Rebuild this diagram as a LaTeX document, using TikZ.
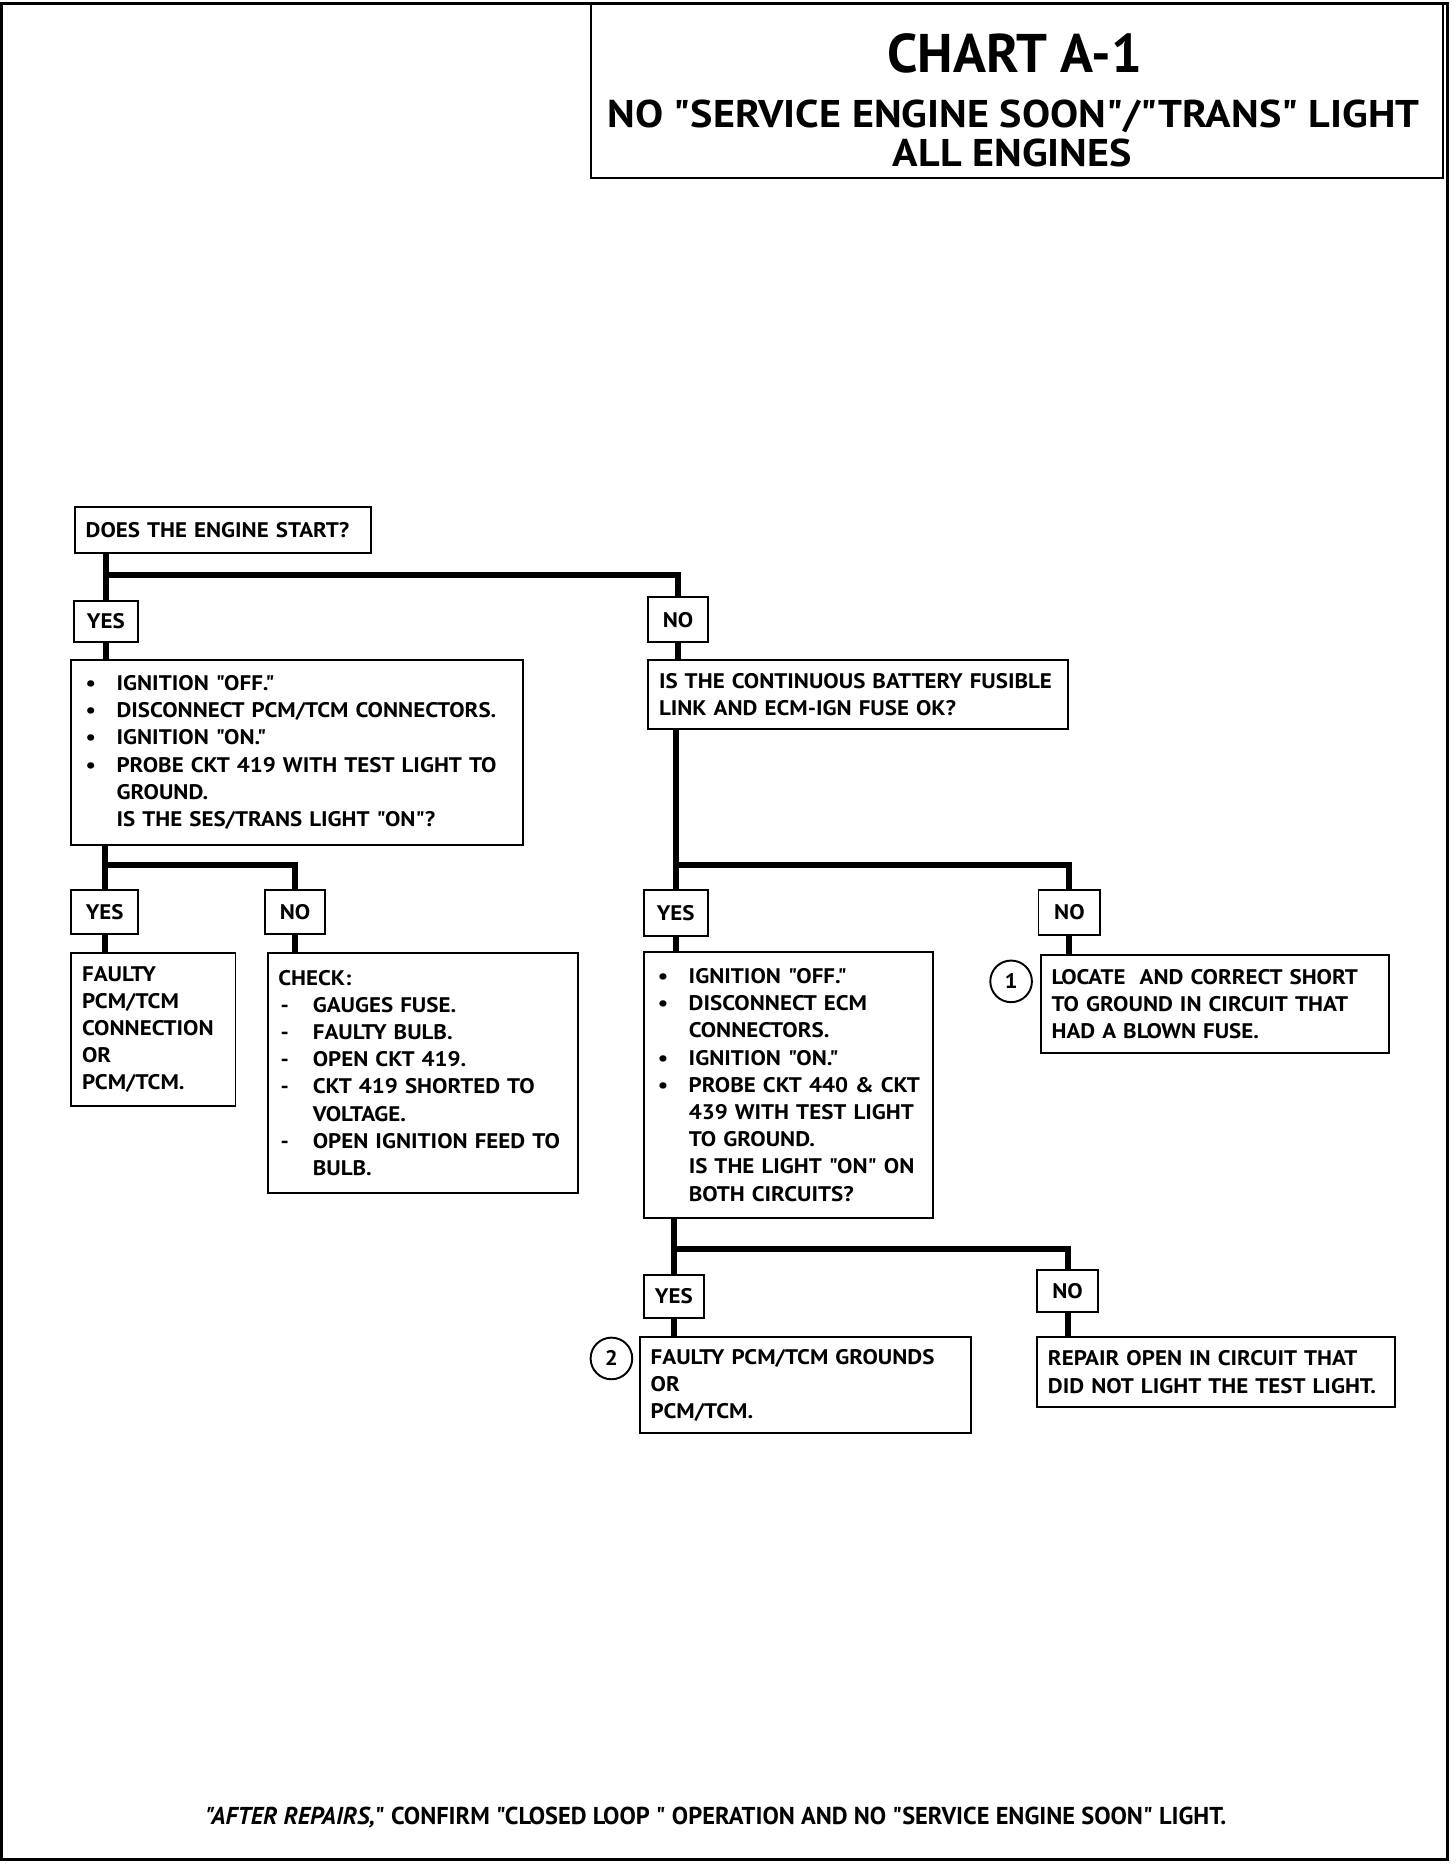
\documentclass[tikz,border=0pt]{standalone}
\usepackage{fontspec}
\setmainfont{PT Sans}[FakeStretch=1.09, Ligatures=TeXOff]
\newfontfamily\titlefont{PT Sans}[Ligatures=TeXOff]
\usepackage{tikz}
\newlength\unitpx
\setlength\unitpx{0.238mm}
\newcommand{\dotitem}{\makebox[29\unitpx][l]{\hspace{3\unitpx}•}}
\newcommand{\dashitem}{\makebox[29\unitpx][l]{\hspace{2\unitpx}-}}
\newcommand{\skipitem}{\hspace*{29\unitpx}}
\tikzset{
    box/.style={draw, line width=1.1pt, inner xsep=9\unitpx, inner ysep=0pt, outer sep=0pt, align=left, anchor=north west, font=\bfseries\fontsize{12}{15.5}\selectfont}, % 文字框的样式
    sz/.style 2 args={text width=#1\unitpx, minimum height=#2\unitpx}, % 文字框的宽和高
    tag/.style 2 args={draw, line width=1.1pt, inner sep=0pt, outer sep=0pt, anchor=north west, minimum width=#1\unitpx, minimum height=#2\unitpx, font=\bfseries\fontsize{12}{15.5}\selectfont}, % YES/NO 小框
    link/.style={line width=3.4pt}, % 粗连线
    num/.style={circle, draw, line width=1.1pt, minimum size=35\unitpx, inner sep=0pt, font=\bfseries\fontsize{12}{12}\selectfont} % 圆圈编号
}
\begin{document}
\begin{tikzpicture}[x=\unitpx, y=-\unitpx]

    \def\W{1224} \def\H{1567}
    \useasboundingbox (0,0) rectangle (\W,\H);
    \draw[line width=2pt] (1,3) rectangle (1217,1563);

    \node[draw, line width=1.1pt, anchor=north west, minimum width=716\unitpx, minimum height=147\unitpx, inner sep=0pt, outer sep=0pt] (title) at (497,3) {};
    \node[font=\titlefont\bfseries\fontsize{31}{31}\selectfont] (hd1) at (853,45) {CHART A-1};
    \node[font=\bfseries\fontsize{22}{22}\selectfont] (hd2) at (852,98) {NO "SERVICE ENGINE SOON"/"TRANS" LIGHT};
    \node[font=\bfseries\fontsize{22}{22}\selectfont] (hd3) at (851,129) {ALL ENGINES};

    \node[box, sz={231}{39}] (q1) at (63,426) {DOES THE ENGINE START?};
    \node[tag={54}{35}] (yes1) at (62,505) {YES};
    \node[tag={50}{38}] (no1) at (545,502) {NO};
    \node[box, sz={362}{155}] (a1) at (60,555) {\dotitem IGNITION "OFF."\\ \dotitem DISCONNECT PCM/TCM CONNECTORS.\\ \dotitem IGNITION "ON."\\ \dotitem PROBE CKT 419 WITH TEST LIGHT TO\\ \skipitem GROUND.\\ \skipitem IS THE SES/TRANS LIGHT "ON"?};
    \node[box, sz={335}{58}] (q2) at (545,555) {IS THE CONTINUOUS BATTERY FUSIBLE\\ LINK AND ECM-IGN FUSE OK?};

    \node[tag={56}{37}] (yes2) at (60,748) {YES};
    \node[tag={50}{37}] (no2) at (223,748) {NO};
    \node[box, sz={120}{129}] (r1) at (60,801) {FAULTY\\ PCM/TCM\\ CONNECTION\\ OR\\ PCM/TCM.};
    \node[box, sz={243}{202}] (r2) at (225,801) {CHECK:\\ \dashitem GAUGES FUSE.\\ \dashitem FAULTY BULB.\\ \dashitem OPEN CKT 419.\\ \dashitem CKT 419 SHORTED TO\\ \skipitem VOLTAGE.\\ \dashitem OPEN IGNITION FEED TO\\ \skipitem BULB.};

    \node[tag={54}{39}] (yes3) at (541,748) {YES};
    \node[tag={52}{38}] (no3) at (873,748) {NO};
    \node[box, sz={225}{224}] (a2) at (541,800) {\dotitem IGNITION "OFF."\\ \dotitem DISCONNECT ECM\\ \skipitem CONNECTORS.\\ \dotitem IGNITION "ON."\\ \dotitem PROBE CKT 440 \& CKT\\ \skipitem 439 WITH TEST LIGHT\\ \skipitem TO GROUND.\\ \skipitem IS THE LIGHT "ON" ON\\ \skipitem BOTH CIRCUITS?};
    \node[box, sz={275}{82}] (r3) at (875,803) {LOCATE\ \ AND CORRECT SHORT\\ TO GROUND IN CIRCUIT THAT\\ HAD A BLOWN FUSE.};
    \node[num] (c1) at (850,825) {1};

    \node[tag={51}{36}] (yes4) at (541,1072) {YES};
    \node[tag={51}{35}] (no4) at (872,1068) {NO};
    \node[box, sz={260}{81}] (r4) at (538,1124) {FAULTY PCM/TCM GROUNDS\\ OR\\ PCM/TCM.};
    \node[box, sz={283}{59}] (r5) at (872,1124) {REPAIR OPEN IN CIRCUIT THAT\\ DID NOT LIGHT THE TEST LIGHT.};
    \node[num] (c2) at (514,1142) {2};

    \draw[link] (yes1.north |- q1.south) -- (yes1.north);
    \draw[link] ([yshift=22\unitpx]yes1.north) -| (no1.north);
    \draw[link] (yes1.south) -- (yes1.south |- a1.north);
    \draw[link] (no1.south) -- (no1.south |- q2.north);

    \draw[link] (yes2.north |- a1.south) -- (yes2.north);
    \draw[link] ([yshift=21\unitpx]yes2.north) -| (no2.north);
    \draw[link] (yes2.south) -- (yes2.south |- r1.north);
    \draw[link] (no2.south) -- (no2.south |- r2.north);

    \draw[link] (yes3.north |- q2.south) -- (yes3.north);
    \draw[link] ([yshift=21\unitpx]yes3.north) -| (no3.north);
    \draw[link] (yes3.south) -- (yes3.south |- a2.north);
    \draw[link] (no3.south) -- (no3.south |- r3.north);

    \draw[link] (yes4.north |- a2.south) -- (yes4.north);
    \draw[link] ([yshift=22\unitpx]yes4.north) -| (no4.north);
    \draw[link] (yes4.south) -- (yes4.south |- r4.north);
    \draw[link] (no4.south) -- (no4.south |- r5.north);

    \node[font=\titlefont\bfseries\fontsize{13.9}{13.9}\selectfont] (foot) at (602,1528) {\textit{"AFTER REPAIRS,}" CONFIRM "CLOSED LOOP " OPERATION AND NO "SERVICE ENGINE SOON" LIGHT.};
\end{tikzpicture}
\end{document}
